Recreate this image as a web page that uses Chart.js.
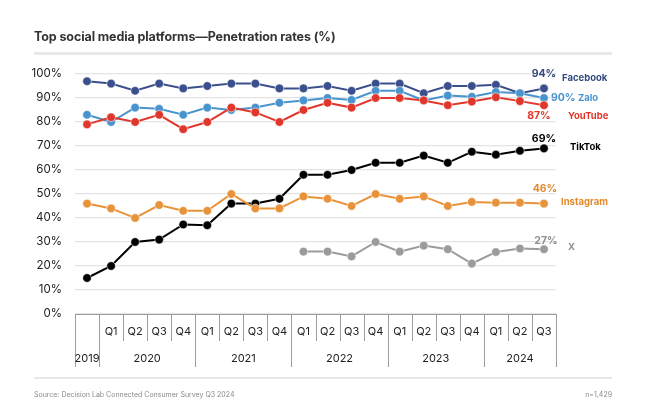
<!DOCTYPE html>
<html><head><meta charset="utf-8">
<script src="https://cdn.jsdelivr.net/npm/chart.js@4.4.1/dist/chart.umd.min.js"></script>
<style>
html,body{margin:0;padding:0;background:#fff;}
#wrap{position:relative;width:660px;height:406px;overflow:hidden;font-family:Inter,'Open Sans',sans-serif;}
canvas{position:absolute;left:0;top:0;}
.title{position:absolute;left:34px;top:28px;font-size:12.5px;font-weight:700;color:#333;white-space:nowrap;line-height:18px;letter-spacing:-0.1px;}
.rule{position:absolute;left:34px;width:578px;background:#e8e8e8;}
.foot{position:absolute;top:390px;font-size:7px;color:#8a8a8a;line-height:10px;white-space:nowrap;}
</style></head>
<body><div id="wrap">
<canvas id="c" width="660" height="406"></canvas>
<div class="title">Top social media platforms—Penetration rates (%)</div>
<div class="rule" style="top:52px;height:2.5px"></div>
<div class="rule" style="top:377px;height:2px"></div>
<div class="foot" style="left:34px">Source: Decision Lab Connected Consumer Survey Q3 2024</div>
<div class="foot" style="right:48px">n=1,429</div>
</div>
<script>
// ---- data ----
const categories = ['2019','2020 Q1','2020 Q2','2020 Q3','2020 Q4','2021 Q1','2021 Q2','2021 Q3','2021 Q4','2022 Q1','2022 Q2','2022 Q3','2022 Q4','2023 Q1','2023 Q2','2023 Q3','2023 Q4','2024 Q1','2024 Q2','2024 Q3'];
const quarterLabels = ['','Q1','Q2','Q3','Q4','Q1','Q2','Q3','Q4','Q1','Q2','Q3','Q4','Q1','Q2','Q3','Q4','Q1','Q2','Q3'];
const yearLabels = ['2019','2020','2020','2020','2020','2021','2021','2021','2021','2022','2022','2022','2022','2023','2023','2023','2023','2024','2024','2024'];
const yTicks = [0,10,20,30,40,50,60,70,80,90,100];
const seriesNames = ['Facebook','Zalo','YouTube','TikTok','Instagram','X'];
const facebook  = [97,96,93,96,94,95,96,96,94,94,95,93,96,96,92,95,95,95.5,92,94];
const zalo      = [83,80,86,85.5,83,86,85,86,88,89,90,89.2,93,93,89,91,90.5,92.5,92,90];
const youtube   = [79,82,80,83,77,80,86,84,80,85,88,86,90,90,89,87,88.5,90.3,88.7,87];
const tiktok    = [15,20,30,31,37.3,37,46,46,48,58,58,60,63,63,66,63,67.6,66.4,68,69];
const instagram = [46,44,40,45.4,43,43,50,44,44,49,48,45,50,48,49,45,46.7,46.4,46.4,46];
const xSeries   = [null,null,null,null,null,null,null,null,null,26,26,24,30,26,28.5,27,21,25.8,27.3,27];

// ---- styles ----
const colors = ['#3c4f8d','#4a94cd','#e1362b','#000000','#e8933a','#9b9b9b'];
const labelColors = ['#34497f','#4a94cd','#e1362b','#000000','#e38a2c','#8f8f8f'];
// offsets (px) of value label and name label relative to last point
const labelPlace = [
  {vdx:0, vdy:-15, valign:'center', ndx:18, ndy:-10},
  {vdx:7, vdy:0, valign:'left', ndx:34, ndy:0},
  {vdx:-5, vdy:11, valign:'center', ndx:24, ndy:11},
  {vdx:0, vdy:-10, valign:'center', ndx:26, ndy:-1},
  {vdx:1, vdy:-15, valign:'center', ndx:17, ndy:-1},
  {vdx:2, vdy:-8, valign:'center', ndx:24, ndy:-2}
];
const allSeries = [facebook, zalo, youtube, tiktok, instagram, xSeries];
const FONT = "Inter, 'Open Sans', sans-serif";

const axisPlugin = {
  id:'multiAxis',
  afterDraw(chart){
    const ctx = chart.ctx, xs = chart.scales.x, ys = chart.scales.y;
    const y0 = ys.getPixelForValue(0);
    const band = xs.getPixelForValue(1) - xs.getPixelForValue(0);
    const n = categories.length;
    ctx.save();
    ctx.strokeStyle = '#9c9c9c';
    ctx.lineWidth = 1;
    ctx.beginPath();
    ctx.moveTo(xs.left, y0+0.5); ctx.lineTo(xs.right, y0+0.5);
    for (let i=0;i<=n;i++){
      const bx = Math.round(i<n ? xs.getPixelForValue(i)-band/2 : xs.right)+0.5;
      const long = (i===0 || i===n || yearLabels[i]!==yearLabels[i-1]);
      ctx.moveTo(bx, y0); ctx.lineTo(bx, long ? y0+53 : y0+27);
    }
    ctx.stroke();
    ctx.fillStyle = '#222';
    ctx.font = '11px ' + FONT;
    ctx.textAlign = 'center'; ctx.textBaseline = 'middle';
    for (let i=0;i<n;i++){
      if (quarterLabels[i]) ctx.fillText(quarterLabels[i], xs.getPixelForValue(i), y0+18);
    }
    let s = 0;
    for (let i=1;i<=n;i++){
      if (i===n || yearLabels[i]!==yearLabels[s]){
        const a = xs.getPixelForValue(s)-band/2, b = xs.getPixelForValue(i-1)+band/2;
        ctx.fillText(yearLabels[s], (a+b)/2, y0+45);
        s = i;
      }
    }
    // end labels
    allSeries.forEach((arr, k)=>{
      const last = arr.length-1;
      const px = xs.getPixelForValue(last), py = ys.getPixelForValue(arr[last]);
      const p = labelPlace[k];
      ctx.fillStyle = labelColors[k];
      ctx.font = 'bold 10.5px ' + FONT;
      ctx.textAlign = p.valign; ctx.textBaseline='middle';
      ctx.fillText(Math.round(arr[last]) + '%', px+p.vdx, py+p.vdy);
      ctx.font = 'bold 9.5px ' + FONT;
      ctx.textAlign = 'left';
      ctx.fillText(seriesNames[k], px+p.ndx, py+p.ndy);
    });
    ctx.restore();
  }
};

new Chart(document.getElementById('c'), {
  type:'line',
  data:{
    labels: categories,
    datasets: allSeries.map((arr,k)=>({
      label: seriesNames[k],
      data: arr,
      borderColor: colors[k],
      backgroundColor: colors[k],
      pointBackgroundColor: colors[k],
      pointBorderColor: 'rgba(255,255,255,0.55)',
      pointBorderWidth: 1,
      pointRadius: 4.3,
      borderWidth: 2,
      tension: 0,
      spanGaps: false,
      clip: false
    })).reverse()
  },
  options:{
    responsive:false,
    devicePixelRatio:1,
    animation:false,
    layout:{padding:{top:74, bottom:92, left:0, right:104}},
    plugins:{legend:{display:false}, tooltip:{enabled:false}, title:{display:false}},
    scales:{
      x:{display:false, offset:true},
      y:{
        min:0, max:100,
        afterFit(s){ s.width = 75; },
        afterBuildTicks(s){ s.ticks = yTicks.map(v=>({value:v})); },
        ticks:{padding:13, color:'#222', font:{family:FONT, size:11.5}, callback:v=>v+'%'},
        grid:{color:'#e4e4e4', lineWidth:1.2, drawTicks:false},
        border:{display:false}
      }
    }
  },
  plugins:[axisPlugin]
});
</script>
</body></html>
